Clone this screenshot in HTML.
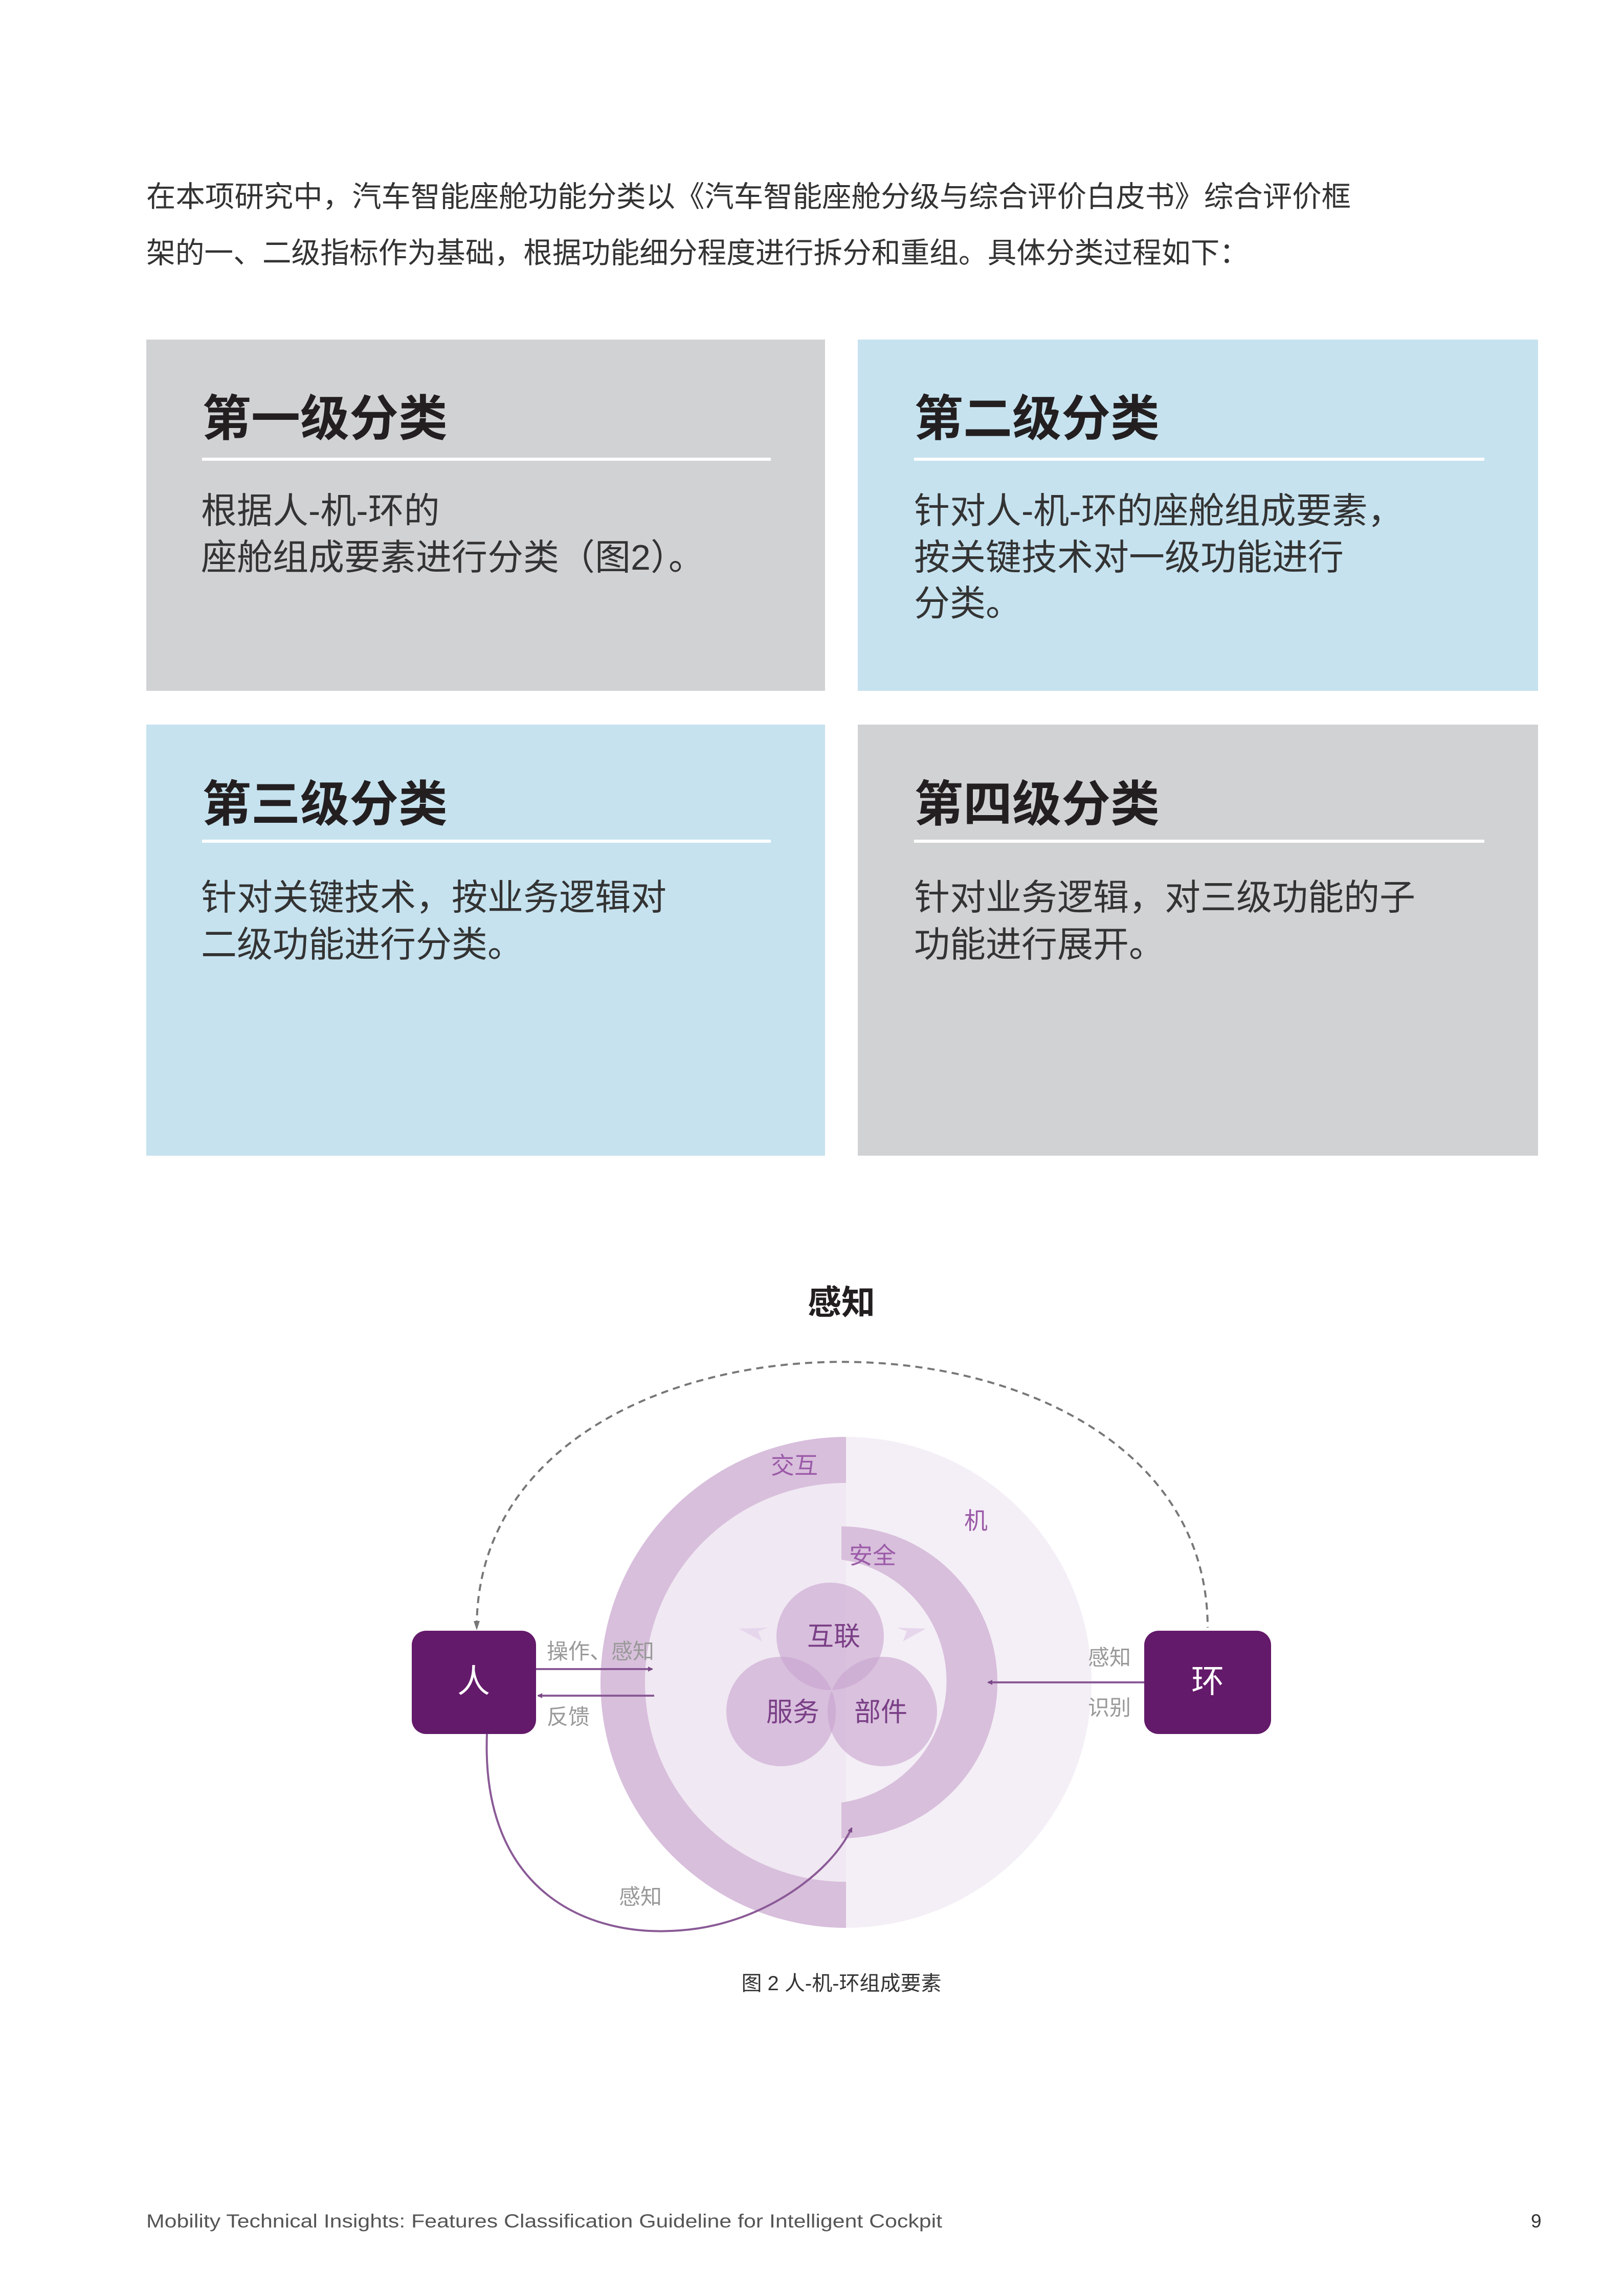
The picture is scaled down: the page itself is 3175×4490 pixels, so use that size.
<!DOCTYPE html>
<html><head><meta charset="utf-8"><style>
html,body{margin:0;padding:0;background:#fff;}
svg{display:block;}
text{font-family:"Liberation Sans","Noto Sans CJK SC",sans-serif;}
</style></head><body>
<svg width="3175" height="4490" viewBox="0 0 3175 4490" xmlns="http://www.w3.org/2000/svg">
<defs>
<marker id="ah" markerWidth="10" markerHeight="10" refX="8" refY="5" orient="auto" markerUnits="userSpaceOnUse"><path d="M0,0 L10,5 L0,10 z" fill="#7a4a86"/></marker>
</defs>
<rect width="3175" height="4490" fill="#fff"/>
<text x="286" y="404" font-size="57" fill="#333" textLength="2355" lengthAdjust="spacingAndGlyphs">在本项研究中，汽车智能座舱功能分类以《汽车智能座舱分级与综合评价白皮书》综合评价框</text>
<text x="286" y="514" font-size="57" fill="#333" textLength="2155" lengthAdjust="spacingAndGlyphs">架的一、二级指标作为基础，根据功能细分程度进行拆分和重组。具体分类过程如下：</text>

<rect x="286" y="664" width="1327" height="687" fill="#d1d2d4"/>
<rect x="1677" y="664" width="1330" height="687" fill="#c6e2ef"/>
<rect x="286" y="1417" width="1327" height="843" fill="#c6e2ef"/>
<rect x="1677" y="1417" width="1330" height="843" fill="#d1d2d4"/>

<g font-weight="bold" font-size="96" fill="#231f20">
<text x="395" y="852">第一级分类</text>
<text x="1787" y="852">第二级分类</text>
<text x="395" y="1606">第三级分类</text>
<text x="1787" y="1606">第四级分类</text>
</g>
<g fill="#fff">
<rect x="395" y="895" width="1112" height="6"/>
<rect x="1787" y="895" width="1115" height="6"/>
<rect x="395" y="1642" width="1112" height="6"/>
<rect x="1787" y="1642" width="1115" height="6"/>
</g>
<g font-size="70" fill="#333">
<text x="393" y="1023">根据人-机-环的</text>
<text x="393" y="1114">座舱组成要素进行分类（图2）。</text>
<text x="1787" y="1023">针对人-机-环的座舱组成要素，</text>
<text x="1787" y="1114">按关键技术对一级功能进行</text>
<text x="1787" y="1204">分类。</text>
<text x="393" y="1779">针对关键技术，按业务逻辑对</text>
<text x="393" y="1871">二级功能进行分类。</text>
<text x="1787" y="1779">针对业务逻辑，对三级功能的子</text>
<text x="1787" y="1871">功能进行展开。</text>
</g>

<text x="1645" y="2570" font-size="66" font-weight="bold" fill="#231f20" text-anchor="middle">感知</text>
<path d="M932,3183 C932,2490 2361,2490 2361,3183" fill="none" stroke="#777" stroke-width="4" stroke-dasharray="14,10"/>
<path d="M926,3170 l6,18 l6,-18z" fill="#777"/>

<circle cx="1654" cy="3290" r="480" fill="#f4eff6"/>
<path d="M1654,2810 A480,480 0 0 0 1654,3770 L1654,3680 A393,390 0 0 1 1654,2900 Z" fill="#d8bfdc"/>
<path d="M1654,2900 A393,390 0 0 0 1654,3680 Z" fill="#f0e8f2"/>
<path d="M1645,2985 A305,305 0 0 1 1645,3595 L1645,3525 A240,240 0 0 0 1645,3050 Z" fill="#d8bfdc"/>

<path d="M1445,3185 l45,25 l-8,-20 l20,-7 z" fill="#e6d6ec"/>
<path d="M1810,3185 l-45,25 l8,-20 l-20,-7 z" fill="#e6d6ec"/>

<g fill="#c8a4ce" fill-opacity="0.6">
<circle cx="1623" cy="3200" r="105"/>
<circle cx="1527" cy="3347" r="107"/>
<circle cx="1725" cy="3347" r="107"/>
</g>
<g font-size="52" fill="#7a3f86" text-anchor="middle">
<text x="1630" y="3218">互联</text>
<text x="1550" y="3366">服务</text>
<text x="1722" y="3366">部件</text>
</g>
<g font-size="46" fill="#9b5aa8" text-anchor="middle">
<text x="1553" y="2882">交互</text>
<text x="1706" y="3058">安全</text>
<text x="1908" y="2990">机</text>
</g>

<rect x="805" y="3189" width="243" height="202" rx="28" fill="#641a6a"/>
<rect x="2237" y="3189" width="248" height="202" rx="28" fill="#641a6a"/>
<text x="926" y="3310" font-size="64" fill="#fff" text-anchor="middle">人</text>
<text x="2361" y="3310" font-size="64" fill="#fff" text-anchor="middle">环</text>

<line x1="1048" y1="3264" x2="1275" y2="3264" stroke="#8a5a96" stroke-width="4" marker-end="url(#ah)"/>
<line x1="1279" y1="3316" x2="1052" y2="3316" stroke="#8a5a96" stroke-width="4" marker-end="url(#ah)"/>
<line x1="2237" y1="3290" x2="1932" y2="3290" stroke="#8a5a96" stroke-width="4" marker-end="url(#ah)"/>
<path d="M952,3391 C940,3700 1150,3790 1330,3775 C1480,3765 1620,3670 1665,3575" fill="none" stroke="#8a5a96" stroke-width="4" marker-end="url(#ah)"/>

<g font-size="42" fill="#999">
<text x="1069" y="3244">操作、感知</text>
<text x="1069" y="3372">反馈</text>
<text x="2127" y="3256">感知</text>
<text x="2127" y="3354">识别</text>
<text x="1210" y="3724">感知</text>
</g>
<text x="1645" y="3892" font-size="40" fill="#333" text-anchor="middle">图 2 人-机-环组成要素</text>

<text x="286" y="4356" font-size="37" fill="#555" textLength="1556" lengthAdjust="spacingAndGlyphs">Mobility Technical Insights: Features Classification Guideline for Intelligent Cockpit</text>
<text x="2993" y="4356" font-size="37" fill="#333">9</text>
</svg>
</body></html>
